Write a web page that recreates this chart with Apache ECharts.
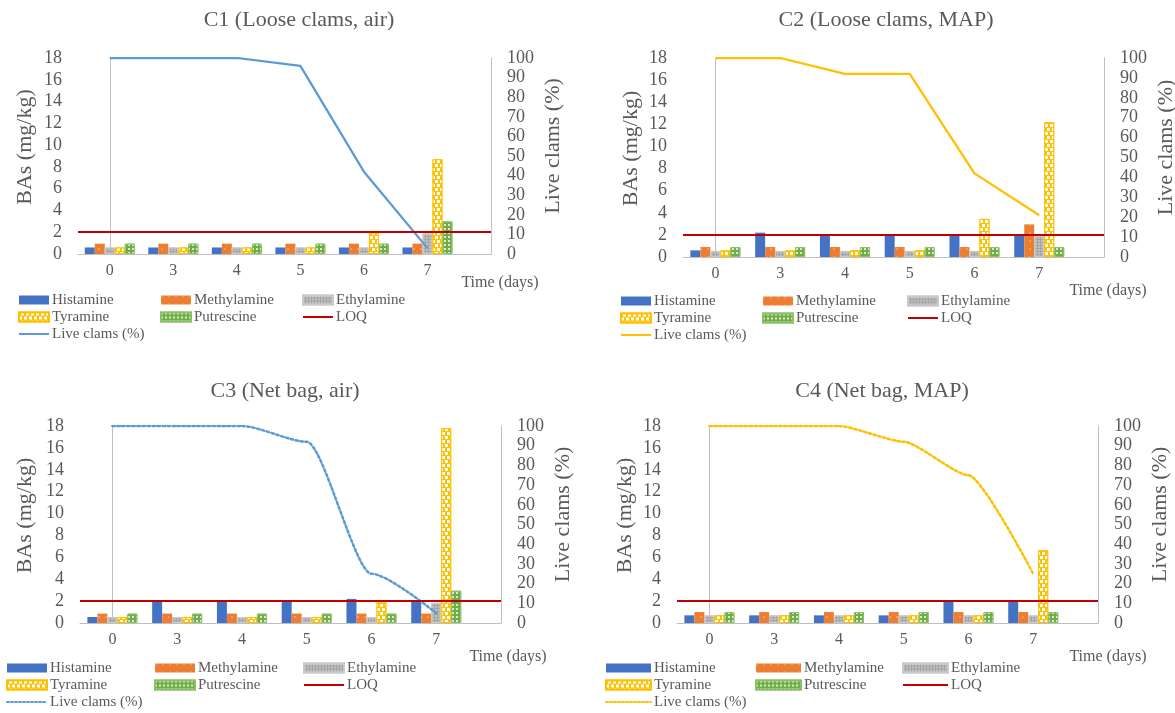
<!DOCTYPE html>
<html>
<head>
<meta charset="utf-8">
<title>Biogenic amines and clam survival</title>
<script src="https://cdn.jsdelivr.net/npm/echarts/dist/echarts.min.js"></script>
<style>
  html, body { margin: 0; padding: 0; background: #ffffff; }
  #chart { width: 1175px; height: 713px; }
</style>
</head>
<body>
<div id="chart"></div>
<script>
// Storage time (days)
const CATS = ['0', '3', '4', '5', '6', '7'];
const LOQ = 2;

// C1 – loose clams, air
const C1_HISTAMINE   = [0.6, 0.6, 0.6, 0.6, 0.6, 0.6];
const C1_METHYLAMINE = [0.95, 0.95, 0.95, 0.95, 0.95, 0.95];
const C1_ETHYLAMINE  = [0.6, 0.6, 0.6, 0.6, 0.6, 1.9];
const C1_TYRAMINE    = [0.6, 0.6, 0.6, 0.6, 1.95, 8.7];
const C1_PUTRESCINE  = [0.95, 0.95, 0.95, 0.95, 0.95, 3.0];
const C1_LIVE        = [100, 100, 100, 96, 42, 3];

// C2 – loose clams, MAP
const C2_HISTAMINE   = [0.6, 2.2, 1.95, 1.95, 1.95, 1.95];
const C2_METHYLAMINE = [0.9, 0.9, 0.9, 0.9, 0.9, 2.95];
const C2_ETHYLAMINE  = [0.55, 0.55, 0.55, 0.55, 0.55, 1.9];
const C2_TYRAMINE    = [0.6, 0.6, 0.6, 0.6, 3.45, 12.2];
const C2_PUTRESCINE  = [0.9, 0.9, 0.9, 0.9, 0.9, 0.9];
const C2_LIVE        = [100, 100, 92, 92, 42, 21];

// C3 – net bag, air
const C3_HISTAMINE   = [0.55, 1.95, 1.95, 1.95, 2.2, 1.95];
const C3_METHYLAMINE = [0.86, 0.86, 0.86, 0.86, 0.86, 0.86];
const C3_ETHYLAMINE  = [0.55, 0.55, 0.55, 0.55, 0.55, 1.85];
const C3_TYRAMINE    = [0.55, 0.55, 0.55, 0.55, 1.95, 17.8];
const C3_PUTRESCINE  = [0.86, 0.86, 0.86, 0.86, 0.86, 2.95];
const C3_LIVE        = [100, 100, 100, 92, 25, 5];

// C4 – net bag, MAP
const C4_HISTAMINE   = [0.7, 0.7, 0.7, 0.7, 2.05, 2.05];
const C4_METHYLAMINE = [1.0, 1.0, 1.0, 1.0, 1.0, 1.0];
const C4_ETHYLAMINE  = [0.7, 0.7, 0.7, 0.7, 0.7, 0.7];
const C4_TYRAMINE    = [0.7, 0.7, 0.7, 0.7, 0.7, 6.65];
const C4_PUTRESCINE  = [1.0, 1.0, 1.0, 1.0, 1.0, 1.0];
const C4_LIVE        = [100, 100, 100, 92, 75, 25];

const FONT = '"Liberation Serif", "Times New Roman", serif';
const TEXT = '#595959';
const AXIS = '#BFBFBF';

// Amine styles (fill + pattern)
const AMINES = [
  { name: 'Histamine', color: '#4472C4' },
  { name: 'Methylamine', color: '#ED7D31',
    decal: { symbol: 'rect', symbolSize: 0.6, color: 'rgba(255,255,255,0.8)', dashArrayX: [[2, 5]], dashArrayY: [2, 6] } },
  { name: 'Ethylamine', color: '#A5A5A5', border: '#C9C9C9',
    decal: { symbol: 'diamond', color: 'rgba(255,255,255,0.6)', dashArrayX: [[2, 1]], dashArrayY: [2, 1] } },
  { name: 'Tyramine', color: '#FFC000', border: '#FFC000',
    decal: { symbol: 'rect', color: '#ffffff', dashArrayX: [[3, 2], [0, 2, 3, 0]], dashArrayY: [3, 1] } },
  { name: 'Putrescine', color: '#70AD47', border: '#8CC168',
    decal: { symbol: 'rect', color: 'rgba(255,255,255,0.75)', dashArrayX: [[2, 2]], dashArrayY: [2, 2] } }
];

const PANELS = [
  { id: 'C1', title: 'C1 (Loose clams, air)',
    values: [C1_HISTAMINE, C1_METHYLAMINE, C1_ETHYLAMINE, C1_TYRAMINE, C1_PUTRESCINE], live: C1_LIVE,
    liveColor: '#5B9BD5', liveType: 'solid', smooth: false,
    grid: { left: 78, top: 58, width: 413, height: 196 },
    titlePos: [299, 20], timePos: [500, 283], leftGap: 42, rightGap: 51,
    legendX: [18, 160, 302], legendTop: 292, iconW: 30 },
  { id: 'C2', title: 'C2 (Loose clams, MAP)',
    values: [C2_HISTAMINE, C2_METHYLAMINE, C2_ETHYLAMINE, C2_TYRAMINE, C2_PUTRESCINE], live: C2_LIVE,
    liveColor: '#FFC000', liveType: 'solid', smooth: false,
    grid: { left: 683, top: 58, width: 421, height: 199 },
    titlePos: [886, 20], timePos: [1108, 291], leftGap: 41, rightGap: 51,
    legendX: [620, 762, 907], legendTop: 293, iconW: 30 },
  { id: 'C3', title: 'C3 (Net bag, air)',
    values: [C3_HISTAMINE, C3_METHYLAMINE, C3_ETHYLAMINE, C3_TYRAMINE, C3_PUTRESCINE], live: C3_LIVE,
    liveColor: '#5B9BD5', liveType: 'dotted', smooth: 0.25,
    grid: { left: 80, top: 426, width: 421, height: 197 },
    titlePos: [285, 391], timePos: [508, 657], leftGap: 44, rightGap: 51,
    legendX: [6, 154, 303], legendTop: 660, iconW: 40 },
  { id: 'C4', title: 'C4 (Net bag, MAP)',
    values: [C4_HISTAMINE, C4_METHYLAMINE, C4_ETHYLAMINE, C4_TYRAMINE, C4_PUTRESCINE], live: C4_LIVE,
    liveColor: '#FFC000', liveType: 'dotted', smooth: 0.2,
    grid: { left: 677, top: 426, width: 421, height: 197 },
    titlePos: [882, 391], timePos: [1108, 657], leftGap: 41, rightGap: 51,
    legendX: [605, 755, 902], legendTop: 660, iconW: 45 }
];

const key = (name, id) => name + '@' + id;
const plain = (n) => n.split('@')[0];

const grids = [], xAxes = [], yAxes = [], series = [], legends = [], graphics = [];

PANELS.forEach((p, i) => {
  grids.push(Object.assign({ containLabel: false, outerBoundsMode: 'none' }, p.grid));

  xAxes.push({
    type: 'value', gridIndex: i, min: -0.5, max: 6, interval: 0.5,
    axisLine: { show: true, lineStyle: { color: AXIS, width: 1 } },
    axisTick: { show: false }, splitLine: { show: false },
    axisLabel: {
      color: TEXT, fontFamily: FONT, fontSize: 16, margin: 9,
      formatter: (v) => (Number.isInteger(v) && CATS[v] !== undefined) ? CATS[v] : ''
    }
  });

  yAxes.push({
    type: 'value', gridIndex: i, position: 'left', min: 0, max: 18, interval: 2,
    name: 'BAs (mg/kg)', nameLocation: 'middle', nameRotate: 90, nameGap: p.leftGap,
    nameTextStyle: { color: TEXT, fontFamily: FONT, fontSize: 22, padding: [0, 0, 0, 18] },
    axisLine: { show: true, lineStyle: { color: AXIS, width: 1 } },
    axisTick: { show: false }, splitLine: { show: false },
    axisLabel: { color: TEXT, fontFamily: FONT, fontSize: 18, margin: 16 }
  });
  yAxes.push({
    type: 'value', gridIndex: i, position: 'right', min: 0, max: 100, interval: 10,
    name: 'Live clams (%)', nameLocation: 'middle', nameRotate: 90, nameGap: p.rightGap,
    nameTextStyle: { color: TEXT, fontFamily: FONT, fontSize: 22, padding: [0, 0, 0, 20] },
    axisLine: { show: true, lineStyle: { color: AXIS, width: 1 } },
    axisTick: { show: false }, splitLine: { show: false },
    axisLabel: { color: TEXT, fontFamily: FONT, fontSize: 18, margin: 16 }
  });

  // Amine bars
  AMINES.forEach((a, j) => {
    const style = { color: a.color };
    if (a.border) { style.borderColor = a.border; style.borderWidth = 1; }
    if (a.decal) style.decal = a.decal;
    series.push({
      type: 'bar', name: key(a.name, p.id), xAxisIndex: i, yAxisIndex: 2 * i,
      barWidth: 10, barGap: '0%', z: 2,
      itemStyle: style,
      data: p.values[j].map((v, k) => [k, v])
    });
  });

  // Limit of quantification
  series.push({
    type: 'line', name: key('LOQ', p.id), xAxisIndex: i, yAxisIndex: 2 * i, z: 5,
    symbol: 'none', data: [],
    itemStyle: { color: '#C00000' }, lineStyle: { color: '#C00000', width: 2 },
    markLine: {
      silent: true, symbol: ['none', 'none'], label: { show: false }, z: 5,
      lineStyle: { color: '#C00000', width: 2, type: 'solid' },
      data: [{ yAxis: LOQ }]
    }
  });

  // Survival curve
  series.push({
    type: 'line', name: key('Live clams (%)', p.id), xAxisIndex: i, yAxisIndex: 2 * i + 1, z: 4,
    symbol: 'none', smooth: p.smooth, smoothMonotone: 'x',
    itemStyle: { color: p.liveColor },
    lineStyle: { color: p.liveColor, width: p.liveType === 'solid' ? 2.25 : 2.5, type: p.liveType,
                 cap: p.liveType === 'dotted' ? 'round' : 'butt' },
    data: p.live.map((v, k) => [k, v])
  });

  const cols = [
    ['Histamine', 'Tyramine', 'Live clams (%)'],
    ['Methylamine', 'Putrescine'],
    ['Ethylamine', 'LOQ']
  ];
  cols.forEach((names, c) => {
    legends.push({
      orient: 'vertical', left: p.legendX[c], top: p.legendTop, padding: 0, itemGap: 1,
      itemWidth: p.iconW, itemHeight: 9, selectedMode: false,
      formatter: plain,
      textStyle: { color: TEXT, fontFamily: FONT, fontSize: 15, lineHeight: 16, padding: [0, 0, 0, -2] },
      data: names.map((n) => {
        const isLine = (n === 'LOQ' || n === 'Live clams (%)');
        return isLine
          ? { name: key(n, p.id), itemStyle: { color: 'rgba(0,0,0,0)', borderWidth: 0, opacity: 0 } }
          : { name: key(n, p.id), icon: 'rect' };
      })
    });
  });

  graphics.push({
    type: 'text', x: p.titlePos[0], y: p.titlePos[1], silent: true,
    style: { text: p.title, fill: TEXT, fontFamily: FONT, fontSize: 22, align: 'center', verticalAlign: 'middle' }
  });
  graphics.push({
    type: 'text', x: p.timePos[0], y: p.timePos[1], silent: true,
    style: { text: 'Time (days)', fill: TEXT, fontFamily: FONT, fontSize: 16, align: 'center', verticalAlign: 'middle' }
  });
});

const chart = echarts.init(document.getElementById('chart'), null, { renderer: 'canvas' });
chart.setOption({
  backgroundColor: '#ffffff',
  animation: false,
  textStyle: { fontFamily: FONT },
  grid: grids,
  xAxis: xAxes,
  yAxis: yAxes,
  legend: legends,
  series: series,
  graphic: graphics
});
</script>
</body>
</html>
